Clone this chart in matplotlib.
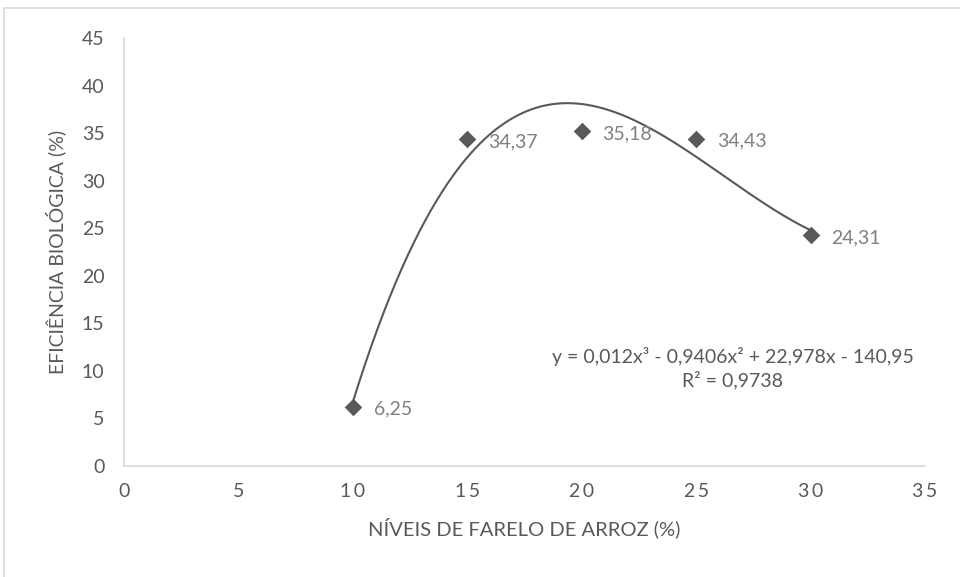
import matplotlib.pyplot as plt
import numpy as np
from matplotlib.patches import Rectangle

niveis = [10, 15, 20, 25, 30]
eficiencia = [6.25, 34.37, 35.18, 34.43, 24.31]
rotulos = ['6,25', '34,37', '35,18', '34,43', '24,31']
x_ticks = [0, 5, 10, 15, 20, 25, 30, 35]
y_ticks = [0, 5, 10, 15, 20, 25, 30, 35, 40, 45]

plt.rcParams['font.family'] = ['Lato', 'DejaVu Sans']
dark = '#595959'
light = '#808080'

fig = plt.figure(figsize=(9.6, 5.77), dpi=100)
ax = fig.add_axes([124 / 960, 1 - 466 / 577, (925 - 124) / 960, (466 - 38) / 577])

# cubic trend line fitted to the points
coef = np.polyfit(niveis, eficiencia, 3)
xs = np.linspace(min(niveis), max(niveis), 300)
ax.plot(xs, np.polyval(coef, xs), color=dark, lw=1.5, zorder=2)

ax.scatter(niveis, eficiencia, marker='D', s=80, color=dark, zorder=3, linewidths=0)
for x, y, t in zip(niveis, eficiencia, rotulos):
    ax.annotate(t, (x, y), xytext=(15, -2), textcoords='offset points',
                ha='left', va='center', color=light, fontsize=14)

ax.set_xlim(0, 35)
ax.set_ylim(0, 45)
ax.set_xticks(x_ticks)
ax.set_yticks(y_ticks)
ax.set_xticklabels(['\u2009'.join(str(v)) for v in x_ticks])
ax.tick_params(length=0, labelsize=14, colors=dark, pad=12)
ax.tick_params(axis='y', pad=14)
for s in ['top', 'right']:
    ax.spines[s].set_visible(False)
for s in ['left', 'bottom']:
    ax.spines[s].set_color('#d9d9d9')
    ax.spines[s].set_linewidth(1.2)

ax.set_xlabel('NÍVEIS DE FARELO DE ARROZ (%)', fontsize=14.5, color=dark, labelpad=13)
ax.set_ylabel('EFICIÊNCIA BIOLÓGICA (%)', fontsize=14, color=dark)
ax.yaxis.set_label_coords(-0.072, 0.5)

ax.text(26.6, 10.3,
        'y = 0,012x³ - 0,9406x² + 22,978x - 140,95\nR² = 0,9738',
        ha='center', va='center', fontsize=14, color=dark, linespacing=1.3)

fig.patches.append(Rectangle((4 / 960, -0.01), 1.1, 1 - 8 / 577 + 0.01, transform=fig.transFigure,
                             fill=False, edgecolor='#d9d9d9', lw=1.2))

fig.savefig('out.png', dpi=100)
